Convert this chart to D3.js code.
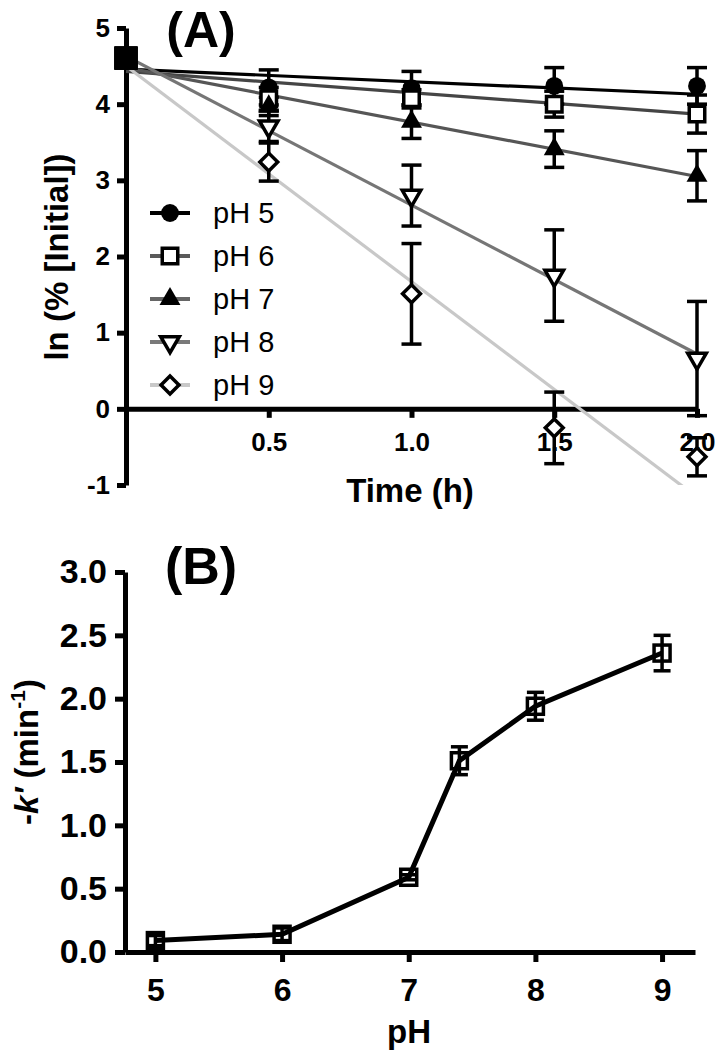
<!DOCTYPE html>
<html>
<head>
<meta charset="utf-8">
<script src="https://cdn.jsdelivr.net/npm/d3@7"></script>
<style>
  body { margin: 0; background: #fff; }
  svg { display: block; font-family: "Liberation Sans", Arial, sans-serif; }
</style>
</head>
<body>
<svg id="chart" width="715" height="1050"></svg>
<script>
// ---------- Panel A data ----------
const timesA = [0, 0.5, 1.0, 1.5, 2.0];
const seriesNames = ["pH 5", "pH 6", "pH 7", "pH 8", "pH 9"];
const valsPH5 = [4.605, 4.22, 4.21, 4.24, 4.24];
const valsPH6 = [4.605, 4.07, 4.07, 4.00, 3.87];
const valsPH7 = [4.605, 3.97, 3.77, 3.41, 3.06];
const valsPH8 = [4.605, 3.71, 2.80, 1.75, 0.66];
const valsPH9 = [4.605, 3.24, 1.51, -0.25, -0.63];
const errPH5 = [0, 0.23, 0.22, 0.24, 0.24];
const errPH6 = [0, 0.15, 0.12, 0.17, 0.25];
const errPH7 = [0, 0.12, 0.22, 0.24, 0.33];
const errPH8 = [0, 0.20, 0.40, 0.60, 0.75];
const errPH9 = [0, 0.25, 0.66, 0.47, 0.25];
// fitted regression lines: value at t=0 and at t=2
const fitStart = [4.46, 4.43, 4.48, 4.63, 4.50];
const fitEnd   = [4.13, 3.87, 3.05, 0.72, -1.16];
const yTicksA = [-1, 0, 1, 2, 3, 4, 5];
const xTicksA = [0.5, 1.0, 1.5, 2.0];

// ---------- Panel B data ----------
const pHB = [5, 6, 7, 7.4, 8, 9];
const kB = [0.09, 0.14, 0.59, 1.51, 1.94, 2.36];
const errB = [0.04, 0.05, 0.02, 0.11, 0.11, 0.14];
const yTicksB = [0, 0.5, 1.0, 1.5, 2.0, 2.5, 3.0];
const xTicksB = [5, 6, 7, 8, 9];

// ---------- styles ----------
const lineColors = ["#000000", "#454545", "#565656", "#767676", "#c8c8c8"];
const legendLineColors = ["#000000", "#5a5a5a", "#666666", "#7a7a7a", "#c8c8c8"];
const shapes = ["circle", "square", "triUp", "triDown", "diamond"];

const svg = d3.select("#chart");
const valsA = [valsPH5, valsPH6, valsPH7, valsPH8, valsPH9];
const errsA = [errPH5, errPH6, errPH7, errPH8, errPH9];
const hyphenInt = d => String(d3.format("d")(d)).replace("\u2212", "-");

function marker(g, shape, x, y) {
  let sym, size, fill, sw = 3.5, rot = 0;
  if (shape === "circle") { sym = d3.symbolCircle; size = 250; fill = "#000"; sw = 0; }
  else if (shape === "square") { sym = d3.symbolSquare; size = 240; fill = "#fff"; }
  else if (shape === "triUp") { sym = d3.symbolTriangle; size = 190; fill = "#000"; sw = 0; }
  else if (shape === "triDown") { sym = d3.symbolTriangle; size = 150; fill = "#fff"; rot = 180; }
  else if (shape === "diamond") { sym = d3.symbolSquare; size = 160; fill = "#fff"; rot = 45; }
  else if (shape === "filledSquare") { sym = d3.symbolSquare; size = 530; fill = "#000"; sw = 0; }
  g.append("path")
    .attr("d", d3.symbol().type(sym).size(size)())
    .attr("transform", `translate(${x},${y}) rotate(${rot})`)
    .attr("fill", fill)
    .attr("stroke", "#000")
    .attr("stroke-width", sw)
    .attr("stroke-linejoin", "miter");
}

// ================= Panel A =================
const xA = d3.scaleLinear().domain([0, 2]).range([126, 697]);
const yA = d3.scaleLinear().domain([-1, 5]).range([485, 28]);

const gA = svg.append("g");

svg.append("clipPath").attr("id", "clipA")
  .append("rect").attr("x", xA(0)).attr("y", yA(5)).attr("width", xA(2) - xA(0) + 2).attr("height", yA(-1) - yA(5));

// axes
const axA_y = gA.append("g").attr("transform", `translate(${xA(0)},0)`)
  .call(d3.axisLeft(yA).tickValues(yTicksA).tickSize(9).tickSizeOuter(0).tickPadding(7).tickFormat(hyphenInt));
const axA_x = gA.append("g").attr("transform", `translate(0,${yA(0)})`)
  .call(d3.axisBottom(xA).tickValues(xTicksA).tickSize(9).tickSizeOuter(0).tickPadding(15).tickFormat(d3.format(".1f")));
[axA_y, axA_x].forEach(ax => {
  ax.select(".domain").attr("stroke", "#000").attr("stroke-width", 5);
  ax.selectAll(".tick line").attr("stroke", "#000").attr("stroke-width", 5);
  ax.selectAll(".tick text").attr("fill", "#000").attr("font-size", 26).attr("font-weight", "bold")
    .attr("font-family", "'Liberation Sans', Arial, sans-serif");
});

// fit lines
const linesG = gA.append("g").attr("clip-path", "url(#clipA)");
seriesNames.forEach((n, i) => {
  linesG.append("line")
    .attr("x1", xA(0)).attr("y1", yA(fitStart[i]))
    .attr("x2", xA(2)).attr("y2", yA(fitEnd[i]))
    .attr("stroke", lineColors[i]).attr("stroke-width", 3.2);
});

// error bars + markers
const ptsG = gA.append("g");
seriesNames.forEach((n, i) => {
  timesA.forEach((t, j) => {
    const v = valsA[i][j], e = errsA[i][j];
    if (e > 0) {
      const x = xA(t);
      ptsG.append("line").attr("x1", x).attr("x2", x).attr("y1", yA(v - e)).attr("y2", yA(v + e))
        .attr("stroke", "#000").attr("stroke-width", 3.5);
      [v - e, v + e].forEach(c => {
        ptsG.append("line").attr("x1", x - 10).attr("x2", x + 10).attr("y1", yA(c)).attr("y2", yA(c))
          .attr("stroke", "#000").attr("stroke-width", 3.5);
      });
    }
  });
});
seriesNames.forEach((n, i) => {
  timesA.forEach((t, j) => {
    marker(ptsG, t === 0 ? "filledSquare" : shapes[i], xA(t), yA(valsA[i][j]));
  });
});

// legend
const legG = gA.append("g");
seriesNames.forEach((n, i) => {
  const y = 213 + i * 43;
  legG.append("line").attr("x1", 150).attr("x2", 190).attr("y1", y).attr("y2", y)
    .attr("stroke", legendLineColors[i]).attr("stroke-width", 4);
  marker(legG, shapes[i], 170, y);
  legG.append("text").attr("x", 213).attr("y", y).attr("dy", "0.36em")
    .attr("font-size", 29).attr("fill", "#000").text(n);
});

// labels
gA.append("text").attr("x", 201).attr("y", 47).attr("text-anchor", "middle")
  .attr("font-size", 50).attr("font-weight", "bold").text("(A)");
gA.append("text").attr("x", 410).attr("y", 502).attr("text-anchor", "middle")
  .attr("font-size", 33).attr("font-weight", "bold").text("Time (h)");
gA.append("text").attr("transform", "translate(68,257) rotate(-90)").attr("text-anchor", "middle")
  .attr("font-size", 33).attr("font-weight", "bold").text("ln (% [Initial])");

// ================= Panel B =================
const xB = d3.scaleLinear().domain([4.76, 9.26]).range([125, 695]);
const yB = d3.scaleLinear().domain([0, 3]).range([952, 572]);
const gB = svg.append("g");

const axB_y = gB.append("g").attr("transform", `translate(${xB.range()[0]},0)`)
  .call(d3.axisLeft(yB).tickValues(yTicksB).tickSize(10).tickSizeOuter(0).tickPadding(8).tickFormat(d3.format(".1f")));
const axB_x = gB.append("g").attr("transform", `translate(0,${yB(0)})`)
  .call(d3.axisBottom(xB).tickValues(xTicksB).tickSize(10).tickSizeOuter(0).tickPadding(16).tickFormat(d3.format("d")));
[axB_y, axB_x].forEach(ax => {
  ax.select(".domain").attr("stroke", "#000").attr("stroke-width", 5);
  ax.selectAll(".tick line").attr("stroke", "#000").attr("stroke-width", 5);
  ax.selectAll(".tick text").attr("fill", "#000").attr("font-weight", "bold")
    .attr("font-family", "'Liberation Sans', Arial, sans-serif");
});
axB_y.selectAll(".tick text").attr("font-size", 34);
axB_x.selectAll(".tick text").attr("font-size", 32);

const lineB = d3.line().x((d, i) => xB(pHB[i])).y(d => yB(d));
gB.append("path").datum(kB).attr("d", lineB).attr("fill", "none")
  .attr("stroke", "#000").attr("stroke-width", 5).attr("stroke-linejoin", "miter");

pHB.forEach((p, i) => {
  const x = xB(p), v = kB[i], e = errB[i];
  gB.append("line").attr("x1", x).attr("x2", x).attr("y1", yB(v - e)).attr("y2", yB(v + e))
    .attr("stroke", "#000").attr("stroke-width", 3.5);
  [v - e, v + e].forEach(c => {
    gB.append("line").attr("x1", x - 8.5).attr("x2", x + 8.5).attr("y1", yB(c)).attr("y2", yB(c))
      .attr("stroke", "#000").attr("stroke-width", 3.5);
  });
  gB.append("rect").attr("x", x - 8).attr("y", yB(v) - 8).attr("width", 16).attr("height", 16)
    .attr("fill", "none").attr("stroke", "#000").attr("stroke-width", 3.5);
});

gB.append("text").attr("x", 201).attr("y", 584).attr("text-anchor", "middle")
  .attr("font-size", 52).attr("font-weight", "bold").text("(B)");
gB.append("text").attr("x", 409).attr("y", 1043).attr("text-anchor", "middle")
  .attr("font-size", 33).attr("font-weight", "bold").text("pH");
const yLabB = gB.append("text").attr("transform", "translate(38,752) rotate(-90)").attr("text-anchor", "middle")
  .attr("font-size", 33).attr("font-weight", "bold");
yLabB.append("tspan").text("-");
yLabB.append("tspan").attr("font-style", "italic").text("k\u2032");
yLabB.append("tspan").text(" (min");
yLabB.append("tspan").attr("font-size", 21).attr("dy", -13).text("-1");
yLabB.append("tspan").attr("dy", 13).text(")");
</script>
</body>
</html>
